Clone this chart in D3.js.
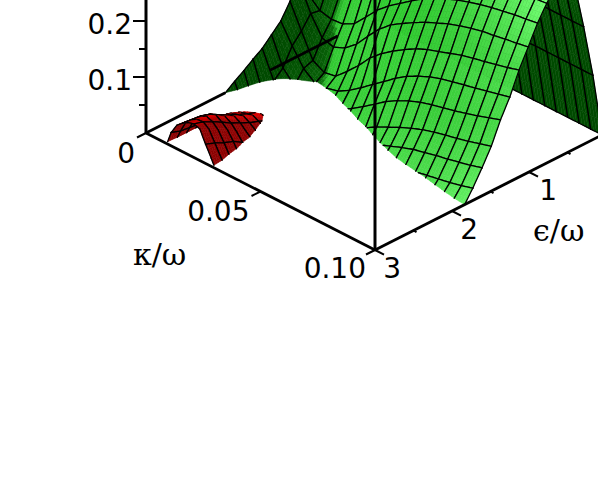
<!DOCTYPE html>
<html><head><meta charset="utf-8">
<style>html,body{margin:0;padding:0;background:#fff}svg{display:block}</style>
<script src="https://cdn.jsdelivr.net/npm/d3@7/dist/d3.min.js"></script>
</head><body><svg id="c" width="598" height="492"></svg>
<script>
const kappaGrid=[0,.005,.01,.015,.02,.025,.03,.035,.04,.045,.05,.055,.06,.065,.07,.075,.08,.085,.09,.095,.1];
const greenEps=[.05,.17,.29,.41,.53,.65,.77,.89,1.01,1.13,1.25,1.37,1.49,1.61,1.73,1.85,1.97];
const gz005=[0,0,0,0,0,0,0,0,0,0,0,0,0,0,0,0,0,0,0,0,0];
const gz017=[1,.95,.9,.95,1,1.03,1.07,1.1,1.1,1.11,1.12,1.13,1.13,1.14,1.14,1.15,1.15,1.15,1.15,1.15,1.15];
const gz029=[1.7,1.6,1.5,1.55,1.65,1.75,1.85,1.95,2,2.05,2.07,2.08,2.09,2.09,2.1,2.1,2.1,2.1,2.1,2.1,2.1];
const gz041=[2.1,2,1.9,1.95,2.05,2.2,2.35,2.5,2.62,2.72,2.8,2.85,2.88,2.9,2.92,2.93,2.94,2.94,2.95,2.95,2.95];
const gz053=[2.2,2,1.85,1.9,2.05,2.25,2.45,2.6,2.72,2.82,2.92,3,3.05,3.1,3.13,3.16,3.18,3.2,3.22,3.24,3.25];
const gz065=[1.9,1.65,1.55,1.6,1.75,1.98,2.2,2.37,2.5,2.62,2.72,2.8,2.87,2.93,2.97,3,3.02,3.04,3.06,3.08,3.1];
const gz077=[1.4,1.25,1.18,1.2,1.35,1.58,1.8,1.97,2.12,2.25,2.37,2.46,2.55,2.62,2.67,2.71,2.75,2.78,2.81,2.83,2.85];
const gz089=[1,.82,.77,.79,.9,1.12,1.35,1.53,1.68,1.83,1.97,2.08,2.18,2.26,2.33,2.39,2.44,2.48,2.52,2.55,2.58];
const gz101=[1.3,.85,.52,.46,.55,.72,.97,1.2,1.38,1.51,1.63,1.74,1.83,1.92,1.99,2.05,2.1,2.13,2.17,2.2,2.24];
const gz113=[1.05,.62,.2,.09,.13,.32,.53,.77,.95,1.1,1.23,1.35,1.44,1.51,1.58,1.65,1.7,1.75,1.8,1.85,1.91];
const gz125=[.78,.44,.14,-.02,0,.05,.17,.32,.48,.64,.8,.94,1.05,1.14,1.21,1.26,1.31,1.36,1.41,1.46,1.51];
const gz137=[.62,.13,-.08,-.18,-.2,-.15,-.07,.03,.17,.32,.47,.59,.69,.77,.83,.88,.93,.99,1.05,1.12,1.19];
const gz149=[.46,-.02,-.38,-.5,-.55,-.5,-.4,-.25,-.12,-.02,.1,.2,.3,.39,.47,.53,.58,.63,.68,.74,.8];
const gz161=[.35,-.25,-.55,-.7,-.7,-.6,-.55,-.45,-.35,-.22,-.13,-.03,.05,.13,.2,.25,.3,.34,.39,.44,.5];
const gz173=[.23,-.35,-.65,-.8,-.8,-.75,-.7,-.6,-.5,-.4,-.3,-.22,-.15,-.09,-.05,-.01,.03,.07,.11,.16,.22];
const gz185=[.12,-.35,-.7,-.9,-.9,-.9,-.9,-.9,-.85,-.8,-.7,-.6,-.5,-.4,-.32,-.25,-.18,-.12,-.08,-.05,-.03];
const gz197=[0,-.5,-.9,-1,-1,-1,-1,-1,-1,-1,-1,-.9,-.9,-.8,-.8,-.7,-.6,-.6,-.5,-.5,-.4];
const greenZ=[gz005,gz017,gz029,gz041,gz053,gz065,gz077,gz089,gz101,gz113,gz125,gz137,gz149,gz161,gz173,gz185,gz197];

const redKappa=[.005,.0075,.01,.0125,.015,.0175,.02,.0225,.025,.0275,.03];
const redEps=[1.89,2.01,2.13,2.25,2.37,2.49,2.61,2.73,2.85,2.97];
const rz189=[-.4,-.3,-.2,-.15,-.1,-.08,-.12,-.2,-.3,-.3,-.3];
const rz201=[-.4,-.2,-.08,-.03,-.01,.005,-.04,-.12,-.2,-.3,-.3];
const rz213=[-.4,-.15,-.02,.02,.05,.07,.02,-.06,-.15,-.25,-.3];
const rz225=[-.4,-.1,.02,.08,.12,.14,.08,0,-.1,-.22,-.3];
const rz237=[-.4,-.08,.05,.15,.2,.22,.16,.06,-.03,-.18,-.3];
const rz249=[-.4,-.06,.08,.22,.28,.3,.24,.13,0,-.14,-.28];
const rz261=[-.4,-.08,.1,.3,.38,.41,.34,.25,.1,-.08,-.22];
const rz273=[-.4,-.1,.12,.34,.43,.47,.43,.33,.16,-.03,-.18];
const rz285=[-.4,-.12,.14,.36,.45,.5,.51,.43,.24,.05,-.14];
const rz297=[-.4,-.12,.2,.38,.47,.53,.56,.52,.3,.1,-.12];
const redZ=[rz189,rz201,rz213,rz225,rz237,rz249,rz261,rz273,rz285,rz297];

const zTicksMajor=[.1,.2,.3,.4];
const zTicksMinor=[.05,.15,.25,.35];
const zLabels=["0.1","0.2"];
const kappaTicks=[0,.05,.1];
const kappaLabels=["0","0.05","0.10"];
const epsMajor=[1,2,3];
const epsMinor=[.5,1.5,2.5];
const epsLabels=["1","2","3"];
const backAxisSpans=[[3,1.97],[1.39,.51]];

const xK=d3.scaleLinear([0,.1],[0,229]), yK=d3.scaleLinear([0,.1],[0,117]);
const xE=d3.scaleLinear([3,0],[0,231]), yE=d3.scaleLinear([3,0],[0,-117]);
const yZ=d3.scaleLinear([0,1],[0,-56]);
const ox=146, oy=133;
const px=(k,e)=>ox+xK(k)+xE(e);
const py=(k,e,z)=>oy+yK(k)+yE(e)+yZ(z);
const svg=d3.select("#c");
const line=d3.line();

const tiltColor=d3.scaleLinear([-8,-1.5,-.3,.5,3],["#004a00","#075f07","#0b700b","#2fc42f","#33cd33"]).clamp(true);
const highE=d3.scaleLinear([1.17,1.6,1.9,2.2],[.75,.3,.45,1]).clamp(true);
const highK=d3.scaleLinear([.4,1],[0,1]).clamp(true);
const lowE=d3.scaleLinear([1.15,1.7],[.5,.05]).clamp(true);
const highWeight=d3.scaleLinear([-.3,.4],[0,1]).clamp(true);
const greenColor=(s,k,e)=>{
  const K=k*10,E=3-e;
  const h=Math.max(Math.pow(highK(K),1.4)*highE(E),lowE(E))*highWeight(s);
  return d3.interpolateRgb(tiltColor(s),"#74ff74")(h);};
const redScale=d3.scaleLinear([0,1,3],["#fa0000","#cc0000","#8c0000"]).clamp(true);
const redColor=(s)=>redScale(s);

function clip(poly){const out=[];for(let i=0;i<poly.length;i++){const a=poly[i],b=poly[(i+1)%poly.length];
  if(a.z>=0)out.push(a);
  if((a.z>=0)!==(b.z>=0)){const t=a.z/(a.z-b.z);out.push({k:a.k+(b.k-a.k)*t,e:a.e+(b.e-a.e)*t,z:0,s:a.s+(b.s-a.s)*t});}}
  return out;}

function drawSurface(g,ks,es,Z,shade,color,sw,every){
  const S=es.map((_,j)=>ks.map((_,i)=>{
    const i0=Math.max(0,i-1),i1=Math.min(ks.length-1,i+1),j0=Math.max(0,j-1),j1=Math.min(es.length-1,j+1);
    return shade((Z[j][i1]-Z[j][i0])/(ks[i1]-ks[i0])/10,(Z[j1][i]-Z[j0][i])/(es[j1]-es[j0]));}));
  const N=4;
  for(let j=0;j<es.length-1;j++)for(let i=0;i<ks.length-1;i++){
    const at=(u,v)=>{const c=(A)=>A[j][i]*(1-u)*(1-v)+A[j][i+1]*u*(1-v)+A[j+1][i]*(1-u)*v+A[j+1][i+1]*u*v;
      return {k:ks[i]+(ks[i+1]-ks[i])*u,e:es[j]+(es[j+1]-es[j])*v,z:c(Z),s:c(S)};};
    if(Math.max(Z[j][i],Z[j][i+1],Z[j+1][i],Z[j+1][i+1])<0)continue;
    for(let b=0;b<N;b++)for(let a=0;a<N;a++){
      const p=clip([at(a/N,b/N),at((a+1)/N,b/N),at((a+1)/N,(b+1)/N),at(a/N,(b+1)/N)]);
      if(p.length<3)continue;
      const col=color(d3.mean(p,d=>d.s),d3.mean(p,d=>d.k),d3.mean(p,d=>d.e));
      g.append("path").attr("d",line(p.map(d=>[px(d.k,d.e),py(d.k,d.e,d.z)]))+"Z").attr("fill",col).attr("stroke",col).attr("stroke-width",.5);
    }
    const edge=(u0,v0,u1,v1)=>{let pts=[];const M=4;
      for(let m=0;m<M;m++){const A=at(u0+(u1-u0)*m/M,v0+(v1-v0)*m/M),B=at(u0+(u1-u0)*(m+1)/M,v0+(v1-v0)*(m+1)/M);
        if(A.z<0&&B.z<0)continue;
        let a=A,b=B;
        if(A.z<0){const t=A.z/(A.z-B.z);a={k:A.k+(B.k-A.k)*t,e:A.e+(B.e-A.e)*t,z:0};}
        if(B.z<0){const t=A.z/(A.z-B.z);b={k:A.k+(B.k-A.k)*t,e:A.e+(B.e-A.e)*t,z:0};}
        pts.push([[px(a.k,a.e),py(a.k,a.e,a.z)],[px(b.k,b.e),py(b.k,b.e,b.z)]]);}
      if(pts.length)g.append("path").attr("d",pts.map(s=>line(s)).join("")).attr("fill","none").attr("stroke","#000").attr("stroke-width",sw).attr("stroke-linecap","round");};
    edge(0,0,1,0);edge(0,1,1,1);
    if(i%every===0)edge(0,0,0,1);
    if((i+1)%every===0)edge(1,0,1,1);
  }
}
const tiltOf=(dk,de)=>Math.min(dk,-de);
drawSurface(svg.append("g"),kappaGrid,greenEps,greenZ,tiltOf,greenColor,1.3,1);
drawSurface(svg.append("g"),redKappa,redEps,redZ,(dk,de)=>Math.abs(dk),redColor,1.3,2);

const ax=svg.append("g").attr("stroke","#000").attr("fill","none");
const seg=(a,b,w)=>ax.append("path").attr("d",line([a,b])).attr("stroke-width",w);
const P=(k,e,z=0)=>[px(k,e),py(k,e,z)];
seg(P(0,3),P(0,3,4.5),3);
seg(P(.1,3),P(.1,3,4.5),3);
seg(P(0,3),P(.1,3),2.8);
seg(P(.1,3),P(.1,0),2.8);
backAxisSpans.forEach(s=>seg(P(0,s[0]),P(0,s[1]),2.8));
zTicksMajor.forEach(z=>{const p=P(0,3,z*10);seg([p[0]-13,p[1]],p,2);});
zTicksMinor.forEach(z=>{const p=P(0,3,z*10);seg([p[0]-7,p[1]],p,2);});
kappaTicks.forEach(k=>{const p=P(k,3);seg([p[0]-9,p[1]+4.5],p,2);});
epsMajor.forEach(e=>{const p=P(.1,e);seg(p,[p[0]+9,p[1]+4.6],2);});
epsMinor.forEach(e=>{const p=P(.1,e);seg(p,[p[0]+3,p[1]+1.7],2);});

const tx=svg.append("g").attr("font-family","'DejaVu Sans'").attr("font-size",28).attr("fill","#000");
const T=(s,x,y,a="end")=>tx.append("text").attr("x",x).attr("y",y).attr("text-anchor",a).text(s);
[.1,.2].forEach((z,i)=>{const p=P(0,3,z*10);T(zLabels[i],p[0]-14,p[1]+13);});
kappaTicks.forEach((k,i)=>{const p=P(k,3);const off=[[-11,30],[-11,29],[-9,28]][i];T(kappaLabels[i],p[0]+off[0],p[1]+off[1]);});
epsMajor.forEach((e,i)=>{const p=P(.1,e);const off=[[28,28],[26,28],[26,28]][i];T(epsLabels[i],p[0]+off[0],p[1]+off[1]);});
const gk=svg.append("g").attr("font-family","'DejaVu Serif','Liberation Serif'").attr("font-size",30).attr("fill","#000");
gk.append("text").attr("x",133).attr("y",265).text("κ/ω");
gk.append("text").attr("x",533).attr("y",241).text("ϵ/ω");
</script></body></html>
